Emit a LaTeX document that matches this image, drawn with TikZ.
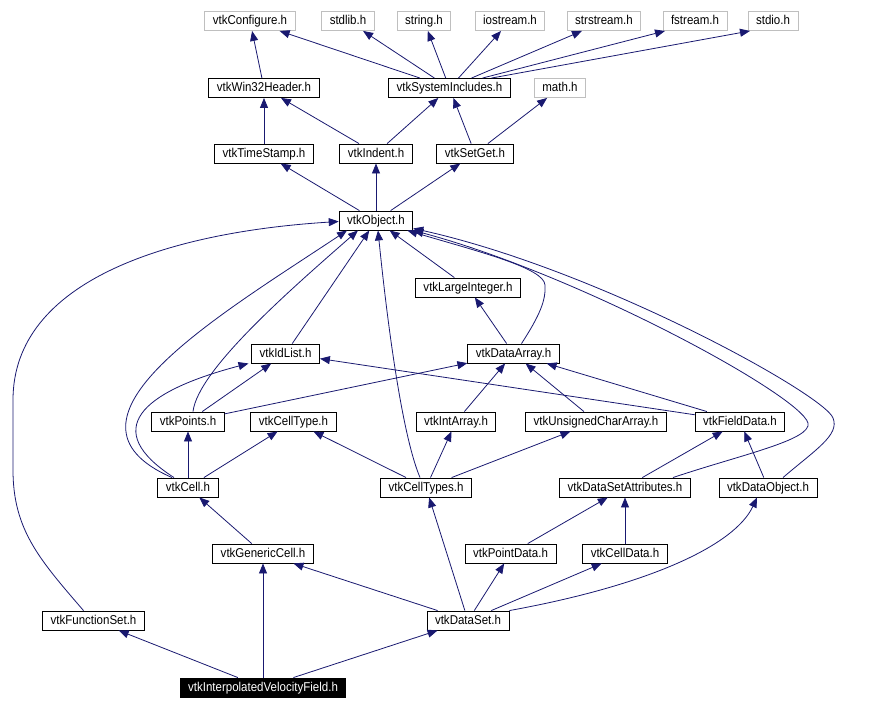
\documentclass[tikz,border=0pt]{standalone}
\usepackage{fontspec}
\setmainfont{Liberation Sans}[FakeStretch=0.9]
\usetikzlibrary{arrows.meta}
\definecolor{edgeblue}{HTML}{191970}
\definecolor{sysgray}{HTML}{BFBFBF}

\begin{document}
\begin{tikzpicture}[x=1pt,y=-1pt,>={Triangle[length=10pt,width=8pt]},
    hdr/.style={draw,line width=0.9pt,inner xsep=8pt,inner ysep=0pt,minimum height=19pt,text height=10pt,text depth=3pt,font=\fontsize{12.8}{13}\selectfont},
    syshdr/.style={hdr,draw=sysgray},
    root/.style={hdr,fill=black,text=white},
    dep/.style={->,draw=edgeblue,line width=0.8pt}]
    \useasboundingbox (0,0) rectangle (890,709);

    \node[syshdr] (configure_h) at (250,21) {vtkConfigure.h};
    \node[syshdr] (stdlib_h) at (348,21) {stdlib.h};
    \node[syshdr] (string_h) at (424,21) {string.h};
    \node[syshdr] (iostream_h) at (510,21) {iostream.h};
    \node[syshdr] (strstream_h) at (604,21) {strstream.h};
    \node[syshdr] (fstream_h) at (695,21) {fstream.h};
    \node[syshdr] (stdio_h) at (773,21) {stdio.h};
    \node[hdr] (win32_h) at (264,88) {vtkWin32Header.h};
    \node[hdr] (sysincl_h) at (449.5,88) {vtkSystemIncludes.h};
    \node[syshdr] (math_h) at (560,88) {math.h};
    \node[hdr] (timestamp_h) at (264,153.5) {vtkTimeStamp.h};
    \node[hdr] (indent_h) at (376,153.5) {vtkIndent.h};
    \node[hdr] (setget_h) at (475,153.5) {vtkSetGet.h};
    \node[hdr] (object_h) at (376,220.5) {vtkObject.h};
    \node[hdr] (largeint_h) at (468,287.5) {vtkLargeInteger.h};
    \node[hdr] (idlist_h) at (285.5,353.5) {vtkIdList.h};
    \node[hdr] (dataarray_h) at (513.5,353.5) {vtkDataArray.h};
    \node[hdr] (points_h) at (188,421.5) {vtkPoints.h};
    \node[hdr] (celltype_h) at (293.5,421.5) {vtkCellType.h};
    \node[hdr] (intarray_h) at (456,421.5) {vtkIntArray.h};
    \node[hdr] (ucharray_h) at (596,421.5) {vtkUnsignedCharArray.h};
    \node[hdr] (fielddata_h) at (740,421.5) {vtkFieldData.h};
    \node[hdr] (cell_h) at (188,487.5) {vtkCell.h};
    \node[hdr] (celltypes_h) at (426,487.5) {vtkCellTypes.h};
    \node[hdr] (dsattr_h) at (625,487.5) {vtkDataSetAttributes.h};
    \node[hdr] (dataobject_h) at (768,487.5) {vtkDataObject.h};
    \node[hdr] (genericcell_h) at (263,553.5) {vtkGenericCell.h};
    \node[hdr] (pointdata_h) at (510.5,553.5) {vtkPointData.h};
    \node[hdr] (celldata_h) at (625,553.5) {vtkCellData.h};
    \node[hdr] (funcset_h) at (93.5,620.5) {vtkFunctionSet.h};
    \node[hdr] (dataset_h) at (468,620.5) {vtkDataSet.h};
    \node[root] (ivf_h) at (263,687.5) {vtkInterpolatedVelocityField.h};
    %

    \draw[dep] (win32_h) -- (configure_h);
    \draw[dep] (sysincl_h) -- (configure_h);
    \draw[dep] (sysincl_h) -- (stdlib_h);
    \draw[dep] (sysincl_h) -- (string_h);
    \draw[dep] (sysincl_h) -- (iostream_h);
    \draw[dep] ([xshift=22pt]sysincl_h.north) -- ([xshift=-22pt]strstream_h.south);
    \draw[dep] ([xshift=33pt]sysincl_h.north) -- ([xshift=-30pt]fstream_h.south);
    \draw[dep] ([xshift=42pt]sysincl_h.north) -- ([xshift=-23pt]stdio_h.south);
    \draw[dep] (timestamp_h) -- (win32_h);
    \draw[dep] (indent_h) -- (win32_h);
    \draw[dep] (indent_h) -- (sysincl_h);
    \draw[dep] (setget_h) -- (sysincl_h);
    \draw[dep] (setget_h) -- (math_h);
    \draw[dep] (object_h) -- (timestamp_h);
    \draw[dep] (object_h) -- (indent_h);
    \draw[dep] (object_h) -- (setget_h);
    \draw[dep] (largeint_h) -- (object_h);
    \draw[dep] (idlist_h) -- (object_h);
    \draw[dep] (dataarray_h) -- (largeint_h);
    \draw[dep] ([xshift=8pt]dataarray_h.north) .. controls (540,315) and (546,300) .. (545,285)
        .. controls (544,268) and (480,252) .. ([xshift=-6pt]object_h.south east);
    \draw[dep] ([xshift=5pt]points_h.north) .. controls (198,370) and (290,290) .. ([xshift=-18pt]object_h.south);
    \draw[dep] (points_h) -- (idlist_h);
    \draw[dep] (points_h) -- (dataarray_h);
    \draw[dep] (intarray_h) -- (dataarray_h);
    \draw[dep] (ucharray_h) -- (dataarray_h);
    \draw[dep] (fielddata_h) -- (idlist_h);
    \draw[dep] (fielddata_h) -- (dataarray_h);
    \draw[dep] (cell_h) -- (points_h);
    \draw[dep] (cell_h) -- (celltype_h);
    \draw[dep] ([xshift=-16pt]cell_h.north) .. controls (40,420) and (220,315) .. ([xshift=-29pt]object_h.south);
    \draw[dep] ([xshift=-14pt]cell_h.north) .. controls (100,430) and (140,392) .. ([xshift=-37pt]idlist_h.south);
    \draw[dep] ([xshift=-6pt]celltypes_h.north) .. controls (400,430) and (385,300) .. ([xshift=2pt]object_h.south);
    \draw[dep] (celltypes_h) -- (celltype_h);
    \draw[dep] (celltypes_h) -- (intarray_h);
    \draw[dep] (celltypes_h) -- (ucharray_h);
    \draw[dep] (dsattr_h) -- (fielddata_h);
    \draw[dep] ([xshift=48pt]dsattr_h.north) .. controls (740,455) and (812,440) .. (808,423)
        .. controls (800,395) and (580,275) .. (object_h.south east);
    \draw[dep] (dataobject_h) -- (fielddata_h);
    \draw[dep] ([xshift=15pt]dataobject_h.north) .. controls (815,450) and (840,435) .. (833,418)
        .. controls (825,395) and (600,270) .. ([yshift=2pt]object_h.south east);
    \draw[dep] (genericcell_h) -- (cell_h);
    \draw[dep] (pointdata_h) -- (dsattr_h);
    \draw[dep] (celldata_h) -- (dsattr_h);
    \draw[dep] ([xshift=-10pt]funcset_h.north) .. controls (40,560) and (13,530) .. (13,470) -- (13,400)
        .. controls (13,280) and (170,232) .. ([yshift=-1pt]object_h.west);
    \draw[dep] (dataset_h) -- (genericcell_h);
    \draw[dep] (dataset_h) -- (celltypes_h);
    \draw[dep] (dataset_h) -- (pointdata_h);
    \draw[dep] (dataset_h) -- (celldata_h);
    \draw[dep] (dataset_h.north east) .. controls (650,585) and (735,545) .. ([xshift=-11pt]dataobject_h.south);
    \draw[dep] (ivf_h) -- (funcset_h);
    \draw[dep] (ivf_h) -- (genericcell_h);
    \draw[dep] (ivf_h) -- (dataset_h);
\end{tikzpicture}
\end{document}
